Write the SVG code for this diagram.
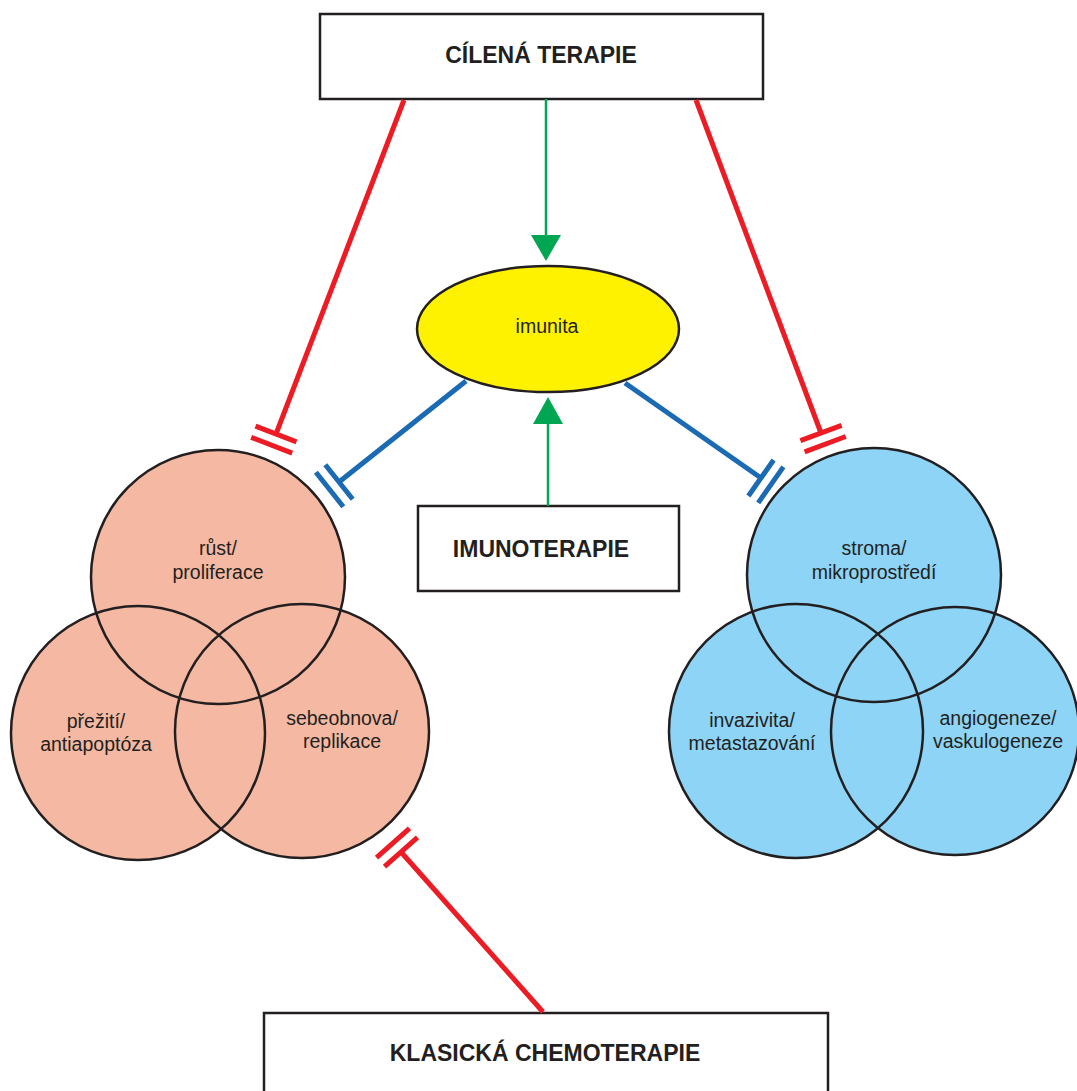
<svg xmlns="http://www.w3.org/2000/svg" width="1077" height="1091" viewBox="0 0 1077 1091">
<style>
.box{fill:#fff;stroke:#231F20;stroke-width:2.5}
.t{font-family:"Liberation Sans",Arial,sans-serif;font-size:19.5px;fill:#231F20;text-anchor:middle}
.tb{font-family:"Liberation Sans",Arial,sans-serif;font-size:23px;font-weight:bold;fill:#231F20;text-anchor:middle}
.sal{fill:#F5B9A3}
.blu{fill:#8DD4F6}
.ol{fill:none;stroke:#231F20;stroke-width:2.5}
.red{stroke:#ED1C24;stroke-width:5;fill:none}
.blue{stroke:#1B6AB4;stroke-width:5;fill:none}
.grn{stroke:#00A651;stroke-width:2.5;fill:none}
.gh{fill:#00A651}
</style>
<rect width="1077" height="1091" fill="#fff"/>
<g id="node-cilena">
<rect class="box" x="320" y="14" width="443" height="85"/>
<text class="tb" x="541" y="63">CÍLENÁ TERAPIE</text>
</g>
<g id="node-imunita">
<ellipse cx="548" cy="329" rx="131" ry="63" fill="#FFF200" stroke="#231F20" stroke-width="2.5"/>
<text class="t" x="547" y="333">imunita</text>
</g>
<g id="node-imunoterapie">
<rect class="box" x="418" y="506" width="261" height="85"/>
<text class="tb" x="541" y="557">IMUNOTERAPIE</text>
</g>
<g id="node-klasicka">
<rect class="box" x="264" y="1013" width="564" height="90"/>
<text class="tb" x="545" y="1061">KLASICKÁ CHEMOTERAPIE</text>
</g>
<g id="node-rust">
<circle class="sal" cx="218" cy="577" r="127"/>
<text class="t" x="218" y="555">růst/</text>
<text class="t" x="218" y="579">proliferace</text>
</g>
<g id="node-prezit">
<circle class="sal" cx="138" cy="733" r="127"/>
<text class="t" x="96" y="728">přežití/</text>
<text class="t" x="96" y="751">antiapoptóza</text>
</g>
<g id="node-sebeobnova">
<circle class="sal" cx="302" cy="731" r="127"/>
<text class="t" x="342" y="725">sebeobnova/</text>
<text class="t" x="342" y="748">replikace</text>
</g>
<g id="node-stroma">
<circle class="blu" cx="874" cy="575" r="127"/>
<text class="t" x="874" y="555">stroma/</text>
<text class="t" x="874" y="579">mikroprostředí</text>
</g>
<g id="node-invazivita">
<circle class="blu" cx="796" cy="731" r="127"/>
<text class="t" x="752" y="727">invazivita/</text>
<text class="t" x="752" y="750">metastazování</text>
</g>
<g id="node-angiogeneze">
<circle class="blu" cx="955" cy="731" r="124"/>
<text class="t" x="998" y="725">angiogeneze/</text>
<text class="t" x="998" y="748">vaskulogeneze</text>
</g>
<g id="outlines">
<circle class="ol" cx="218" cy="577" r="127"/>
<circle class="ol" cx="138" cy="733" r="127"/>
<circle class="ol" cx="302" cy="731" r="127"/>
<circle class="ol" cx="874" cy="575" r="127"/>
<circle class="ol" cx="796" cy="731" r="127"/>
<circle class="ol" cx="955" cy="731" r="124"/>
</g>
<g id="connectors">
<line class="grn" x1="546" y1="99" x2="546" y2="238"/>
<polygon class="gh" points="531,235 561,235 546,261"/>
<line class="grn" x1="548" y1="506" x2="548" y2="420"/>
<polygon class="gh" points="533,424 563,424 548,397"/>
<path class="red" d="M404,100 L276,434 M255.5,426.1 L296.5,441.9 M251.2,437.3 L292.2,453.1"/>
<path class="red" d="M696,100 L821,433 M800.4,440.7 L841.6,425.3 M804.6,451.9 L845.8,436.5"/>
<path class="red" d="M543,1012 L401,852 M384.5,866.6 L417.5,837.4 M376.5,857.6 L409.5,828.4"/>
<path class="blue" d="M466,381 L339,482 M325.3,464.8 L352.7,499.2 M315.9,472.3 L343.3,506.7"/>
<path class="blue" d="M625,383 L761,478 M748.4,496 L773.6,460 M758.2,502.9 L783.4,466.9"/>
</g>
</svg>
